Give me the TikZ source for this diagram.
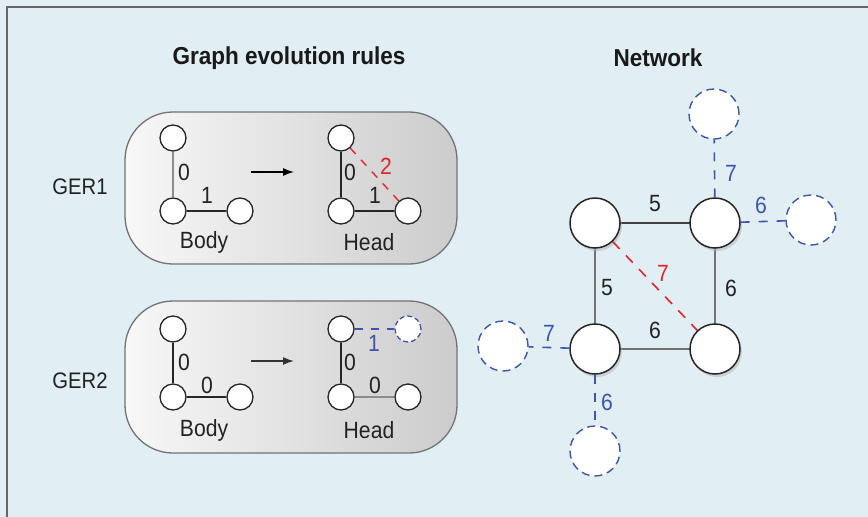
\documentclass[tikz,border=0pt]{standalone}
\usepackage{fontspec}
\setmainfont{Liberation Sans}
\newfontfamily\condfont[FakeStretch=0.9]{Liberation Sans}
\newfontfamily\condtitle[FakeStretch=0.92]{Liberation Sans}
\usetikzlibrary{shadows,arrows.meta}
\definecolor{bgblue}{HTML}{E1EEF4}
\definecolor{myred}{HTML}{E3242B}
\definecolor{myblue}{HTML}{3D55B0}
\definecolor{txt}{HTML}{222222}
\tikzset{
  frameline/.style={draw=black!60, line width=1.6},
  panel/.style={draw=black!55, line width=1.3, rounded corners=48, minimum width=332, minimum height=152, inner sep=0, left color=black!3, right color=black!20},
  sn/.style={circle, draw=black!85, fill=white, line width=1.3, minimum size=26, inner sep=0},
  snb/.style={circle, draw=myblue, dash pattern=on 5 off 3, fill=white, line width=1.3, minimum size=26, inner sep=0},
  bn/.style={circle, draw=black!85, fill=white, line width=1.5, minimum size=50, inner sep=0, drop shadow={shadow xshift=2pt, shadow yshift=-3pt, fill=black!30, opacity=0.5}},
  bnb/.style={circle, draw=myblue, dash pattern=on 8 off 5, fill=white, line width=1.4, minimum size=50, inner sep=0},
  gedge/.style={draw=black!85, line width=1.4},
  gredge/.style={draw=black!45, line width=1.4},
  redge/.style={draw=myred, line width=1.4, dash pattern=on 8 off 8},
  bedge/.style={draw=myblue, line width=1.4, dash pattern=on 8 off 8},
  lbl/.style={text=txt, font=\condfont\fontsize{23.5}{25}\selectfont, inner sep=0},
  rlbl/.style={lbl, text=myred},
  blbl/.style={lbl, text=myblue},
  title/.style={text=black!90, font=\condtitle\fontsize{24.5}{27}\selectfont\bfseries, inner sep=0},
  ger/.style={text=txt, font=\condfont\fontsize{22.5}{25}\selectfont, inner sep=0},
  nedge/.style={draw=black!75, line width=1.8},
  nedgeg/.style={draw=black!55, line width=1.8},
  nredge/.style={draw=myred, line width=1.6, dash pattern=on 10 off 9},
  nbedge/.style={draw=myblue, line width=1.6, dash pattern=on 9 off 9},
  arr/.style={draw=black, line width=1.4, -{Latex[length=11,width=8]}}
}
\begin{document}
\begin{tikzpicture}[x=1pt,y=-1pt]
\useasboundingbox (0,0) rectangle (868,517);
\fill[bgblue] (0,0) rectangle (868,517);
\draw[frameline] (7,517) -- (7,7) -- (868,7);

\node[title] (t1) at (289,58) {Graph evolution rules};
\node[title] (t2) at (658,58) {Network};

\node[ger] (g1) at (80,187) {GER1};
\node[ger] (g2) at (80,381) {GER2};

% panels
\node[panel] (p1) at (291,188) {};
\node[panel] (p2) at (291,377) {};

% GER1 body
\node[sn] (b1t) at (173,138) {};
\node[sn] (b1l) at (173,211) {};
\node[sn] (b1r) at (240,211) {};
\draw[gredge] (b1t) -- (b1l);
\draw[gedge] (b1l) -- (b1r);
\node[lbl] (b1a) at (184,172) {0};
\node[lbl] (b1b) at (207,195) {1};
\node[lbl] (b1c) at (204,242) {Body};
\coordinate (a1s) at (251,172);
\coordinate (a1e) at (294,172);
\draw[arr] (a1s) -- (a1e);
% GER1 head
\node[sn] (h1t) at (341,138) {};
\node[sn] (h1l) at (341,211) {};
\node[sn] (h1r) at (408,211) {};
\draw[gedge] (h1t) -- (h1l);
\draw[gedge] (h1l) -- (h1r);
\draw[redge] (h1t) -- (h1r);
\node[lbl] (h1a) at (350,172) {0};
\node[lbl] (h1b) at (375,195) {1};
\node[rlbl] (h1c) at (386,166) {2};
\node[lbl] (h1d) at (369,242) {Head};

% GER2 body
\node[sn] (b2t) at (173,329) {};
\node[sn] (b2l) at (173,397) {};
\node[sn] (b2r) at (240,397) {};
\draw[gedge] (b2t) -- (b2l);
\draw[gedge] (b2l) -- (b2r);
\node[lbl] (b2a) at (184,362) {0};
\node[lbl] (b2b) at (207,385) {0};
\node[lbl] (b2c) at (204,430) {Body};
\coordinate (a2s) at (251,361);
\coordinate (a2e) at (294,361);
\draw[arr, draw=black!80] (a2s) -- (a2e);
% GER2 head
\node[sn] (h2t) at (341,329) {};
\node[sn] (h2l) at (341,397) {};
\node[sn] (h2r) at (408,397) {};
\node[snb] (h2n) at (408,329) {};
\draw[gedge] (h2t) -- (h2l);
\draw[gredge] (h2l) -- (h2r);
\draw[bedge] (h2t) -- (h2n);
\node[blbl] (h2a) at (374,343) {1};
\node[lbl] (h2b) at (350,362) {0};
\node[lbl] (h2c) at (375,385) {0};
\node[lbl] (h2d) at (369,430) {Head};

% network
\draw[nedge] (595,223) -- (715,223);
\draw[nedgeg] (595,223) -- (595,349);
\draw[nedgeg] (715,223) -- (715,349);
\draw[nedgeg] (595,349) -- (715,349);
\node[bn] (n1) at (595,223) {};
\node[bn] (n2) at (715,223) {};
\node[bn] (n3) at (595,349) {};
\node[bn] (n4) at (715,349) {};
\draw[nredge] (n1) -- (n4);
\node[bnb] (d1) at (714,114) {};
\node[bnb] (d2) at (811,220) {};
\node[bnb] (d3) at (503,346) {};
\node[bnb] (d4) at (595,451) {};
\draw[nbedge] (n2) -- (d1);
\draw[nbedge] (n2) -- (d2);
\draw[nbedge] (n3) -- (d3);
\draw[nbedge] (n3) -- (d4);

\node[lbl] (l1) at (655,204) {5};
\node[lbl] (l2) at (607,288) {5};
\node[lbl] (l3) at (731,288) {6};
\node[lbl] (l4) at (655,330) {6};
\node[rlbl] (l5) at (663,273) {7};
\node[blbl] (l6) at (731,173) {7};
\node[blbl] (l7) at (761,205) {6};
\node[blbl] (l8) at (549,333) {7};
\node[blbl] (l9) at (607,402) {6};
\end{tikzpicture}
\end{document}
